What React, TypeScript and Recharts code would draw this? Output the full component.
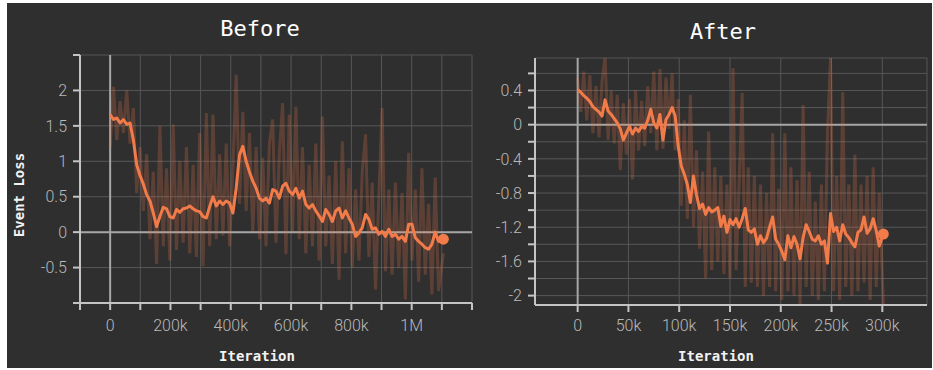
import React from 'react';
import { LineChart, Line, XAxis, YAxis, CartesianGrid, ReferenceLine } from 'recharts';

// ---------- Before panel data ----------
const beforeIterations = [
  0, 11000, 22000, 33000, 44000, 55000, 66000, 77000, 88000, 99000,
  110000, 121000, 132000, 143000, 154000, 165000, 176000, 187000, 198000, 209000,
  220000, 231000, 242000, 253000, 264000, 275000, 286000, 297000, 308000, 319000,
  330000, 341000, 352000, 363000, 374000, 385000, 396000, 407000, 418000, 429000,
  440000, 451000, 462000, 473000, 484000, 495000, 506000, 517000, 528000, 539000,
  550000, 561000, 572000, 583000, 594000, 605000, 616000, 627000, 638000, 649000,
  660000, 671000, 682000, 693000, 704000, 715000, 726000, 737000, 748000, 759000,
  770000, 781000, 792000, 803000, 814000, 825000, 836000, 847000, 858000, 869000,
  880000, 891000, 902000, 913000, 924000, 935000, 946000, 957000, 968000, 979000,
  990000, 1001000, 1012000, 1023000, 1034000, 1045000, 1056000, 1067000, 1078000, 1089000,
  1105000,
];
const beforeSmoothed = [
  1.66, 1.59, 1.61, 1.54, 1.59, 1.52, 1.54, 1.30, 0.95, 0.80,
  0.68, 0.53, 0.44, 0.27, 0.08, 0.22, 0.35, 0.33, 0.22, 0.20,
  0.32, 0.28, 0.33, 0.34, 0.37, 0.33, 0.30, 0.29, 0.22, 0.20,
  0.36, 0.50, 0.37, 0.44, 0.39, 0.44, 0.41, 0.27, 0.62, 1.09,
  1.21, 1.00, 0.85, 0.72, 0.62, 0.48, 0.44, 0.48, 0.41, 0.60,
  0.58, 0.48, 0.65, 0.69, 0.58, 0.53, 0.62, 0.48, 0.58, 0.39,
  0.34, 0.39, 0.30, 0.23, 0.15, 0.32, 0.25, 0.15, 0.30, 0.34,
  0.20, 0.30, 0.20, 0.11, -0.06, -0.01, 0.06, 0.25, 0.18, 0.04,
  0.06, -0.03, 0.01, -0.06, 0.04, -0.06, -0.03, -0.10, -0.06, -0.13,
  0.11, 0.11, -0.08, -0.13, -0.17, -0.22, -0.24, -0.17, 0.00, -0.13,
  -0.10,
];
const beforeRaw = [
  1.20, 2.05, 1.30, 1.85, 1.40, 2.00, 1.25, 1.75, 0.55, 1.20,
  0.30, 1.10, -0.10, 0.85, -0.45, 1.50, -0.20, 0.90, -0.40, 1.52,
  -0.25, 1.00, -0.15, 1.20, -0.30, 0.95, -0.35, 1.40, -0.48, 1.68,
  -0.20, 1.66, -0.10, 1.10, -0.05, 1.25, -0.20, 0.90, 2.22, 0.40,
  1.70, 0.30, 1.40, 0.00, 1.20, -0.10, 1.05, -0.20, 1.25, 1.59,
  -0.15, 1.10, 1.82, -0.31, 1.66, 0.00, 1.77, -0.10, 1.20, -0.30,
  0.95, -0.20, 1.25, -0.40, 1.63, -0.20, 0.80, -0.45, 1.00, -0.67,
  1.28, -0.30, 0.90, -0.50, 0.60, -0.40, 0.85, 1.38, -0.35, 0.70,
  -0.81, 0.50, 1.75, -0.55, 0.60, -0.60, 0.70, -0.50, 0.55, -0.95,
  1.12, -0.40, 0.60, -0.70, 0.90, -0.60, 0.40, -0.88, 0.77, -0.83,
  -0.30,
];
const beforeXTicks = [-100000, 0, 100000, 200000, 300000, 400000, 500000, 600000, 700000, 800000, 900000, 1000000, 1100000, 1200000];
const beforeXLabels = ['', '0', '', '200k', '', '400k', '', '600k', '', '800k', '', '1M', '', ''];
const beforeYTicks = [-1, -0.5, 0, 0.5, 1, 1.5, 2, 2.5];
const beforeYLabels = ['', '-0.5', '0', '0.5', '1', '1.5', '2', ''];

// ---------- After panel data ----------
const afterIterations = [
  0, 3000, 6000, 9000, 12000, 15000, 18000, 21000, 24000, 27000,
  30000, 33000, 36000, 39000, 42000, 45000, 48000, 51000, 54000, 57000,
  60000, 63000, 66000, 69000, 72000, 75000, 78000, 81000, 84000, 87000,
  90000, 93000, 96000, 99000, 102000, 105000, 108000, 111000, 114000, 117000,
  120000, 123000, 126000, 129000, 132000, 135000, 138000, 141000, 144000, 147000,
  150000, 153000, 156000, 159000, 162000, 165000, 168000, 171000, 174000, 177000,
  180000, 183000, 186000, 189000, 192000, 195000, 198000, 201000, 204000, 207000,
  210000, 213000, 216000, 219000, 222000, 225000, 228000, 231000, 234000, 237000,
  240000, 243000, 246000, 249000, 252000, 255000, 258000, 261000, 264000, 267000,
  270000, 273000, 276000, 279000, 282000, 285000, 288000, 291000, 294000, 297000,
  301000,
];
const afterSmoothed = [
  0.41, 0.38, 0.34, 0.31, 0.27, 0.21, 0.18, 0.15, 0.10, 0.29,
  0.16, 0.12, 0.07, 0.02, -0.05, -0.18, -0.10, -0.02, -0.11, -0.04,
  -0.08, -0.02, -0.04, 0.05, 0.18, 0.02, -0.04, 0.12, -0.18, 0.06,
  0.12, 0.20, 0.10, -0.25, -0.48, -0.58, -0.70, -0.91, -0.60, -0.82,
  -0.98, -0.93, -1.05, -0.97, -1.02, -1.00, -0.97, -1.19, -1.07, -1.26,
  -1.11, -1.17, -1.10, -1.20, -1.10, -0.98, -1.23, -1.26, -1.22, -1.40,
  -1.30, -1.38, -1.33, -1.20, -1.08, -1.34, -1.40, -1.48, -1.58, -1.30,
  -1.44, -1.31, -1.40, -1.57, -1.32, -1.17, -1.25, -1.34, -1.36, -1.30,
  -1.40, -1.36, -1.62, -1.04, -1.25, -1.20, -1.36, -1.17, -1.28, -1.32,
  -1.38, -1.43, -1.26, -1.23, -1.08, -1.27, -1.22, -1.10, -1.24, -1.42,
  -1.28,
];
const afterRaw = [
  0.55, 0.15, 0.62, 0.05, 0.58, -0.10, 0.45, -0.15, 0.50, 0.80,
  -0.18, 0.40, -0.22, 0.35, -0.53, 0.25, -0.35, 0.30, -0.64, 0.40,
  -0.30, 0.28, -0.25, 0.45, -0.10, 0.62, -0.30, 0.65, -0.28, 0.55,
  -0.05, 0.60, -0.30, 0.30, -0.95, 0.05, -1.10, 0.35, -1.20, -0.30,
  -1.45, -0.55, -1.80, -0.08, -1.70, -0.50, -1.60, -0.60, -1.75, -0.70,
  -1.80, 0.66, -1.70, -0.70, 0.37, -1.90, -0.50, -1.85, -0.60, -1.90,
  -0.70, -2.00, -0.80, -1.90, -0.10, -1.95, -0.75, -2.05, -0.10, -1.95,
  -0.50, -2.00, -0.65, -2.10, 0.23, -1.90, -0.55, -2.00, -0.90, -2.05,
  -0.70, -1.95, -0.09, 0.78, -1.95, -0.60, -2.05, 0.38, -1.90, -0.70,
  -2.00, -0.35, -1.95, -0.70, -1.85, -0.60, -2.05, -0.50, -1.90, -0.80,
  -2.10,
];
const afterXTicks = [0, 50000, 100000, 150000, 200000, 250000, 300000];
const afterXLabels = ['0', '50k', '100k', '150k', '200k', '250k', '300k'];
const afterYTicks = [-2, -1.8, -1.6, -1.4, -1.2, -1, -0.8, -0.6, -0.4, -0.2, 0, 0.2, 0.4, 0.6];
const afterYLabels = ['-2', '', '-1.6', '', '-1.2', '', '-0.8', '', '-0.4', '', '0', '', '0.4', ''];

const beforeData = beforeIterations.map((it, i) => ({ it, raw: beforeRaw[i], smooth: beforeSmoothed[i] }));
const afterData = afterIterations.map((it, i) => ({ it, raw: afterRaw[i], smooth: afterSmoothed[i] }));

const BG = '#2f2f2f';
const ORANGE = '#f27b4a';
const AXIS = '#c4c4c4';
const GRID = '#575757';
const ZERO = '#a6a6a6';
const TICK_TEXT = '#b9b9b9';
const MONO = '"DejaVu Sans Mono", monospace';

const tickStyle = { fill: TICK_TEXT, fontFamily: 'Roboto, sans-serif', fontWeight: 300, fontSize: 16 };

function endDot(lastIndex: number) {
  return (props: any) => {
    const { cx, cy, index } = props;
    if (index !== lastIndex || cx == null || cy == null) return <g key={`d${index}`} />;
    return <circle key={`d${index}`} cx={cx} cy={cy} r={5.5} fill={ORANGE} stroke="none" />;
  };
}

interface PanelProps {
  data: { it: number; raw: number; smooth: number }[];
  xDomain: [number, number];
  yDomain: [number, number];
  xTicks: number[];
  xLabels: string[];
  yTicks: number[];
  yLabels: string[];
  width: number;
  height: number;
  margin: { top: number; right: number; left: number; bottom: number };
  xTickMargin: number;
}

function Panel(p: PanelProps) {
  return (
    <LineChart width={p.width} height={p.height} data={p.data} margin={p.margin}>
      <CartesianGrid stroke={GRID} strokeWidth={1} />
      <XAxis
        type="number"
        dataKey="it"
        domain={p.xDomain}
        ticks={p.xTicks}
        interval={0}
        allowDataOverflow
        tickFormatter={(v: number, i: number) => p.xLabels[i] ?? ''}
        tick={tickStyle}
        tickSize={7}
        tickMargin={p.xTickMargin}
        height={30}
        axisLine={{ stroke: AXIS, strokeWidth: 2 }}
        tickLine={{ stroke: AXIS, strokeWidth: 2 }}
      />
      <YAxis
        type="number"
        domain={p.yDomain}
        ticks={p.yTicks}
        interval={0}
        allowDataOverflow
        tickFormatter={(v: number, i: number) => p.yLabels[i] ?? ''}
        tick={tickStyle}
        tickSize={7}
        tickMargin={6}
        width={60}
        axisLine={{ stroke: AXIS, strokeWidth: 2 }}
        tickLine={{ stroke: AXIS, strokeWidth: 2 }}
      />
      <ReferenceLine y={0} stroke={ZERO} strokeWidth={2} />
      <ReferenceLine x={0} stroke={ZERO} strokeWidth={2} />
      <Line
        type="linear"
        dataKey="raw"
        stroke={ORANGE}
        strokeOpacity={0.24}
        strokeWidth={3}
        dot={false}
        activeDot={false}
        isAnimationActive={false}
      />
      <Line
        type="linear"
        dataKey="smooth"
        stroke={ORANGE}
        strokeWidth={3}
        strokeLinejoin="round"
        dot={endDot(p.data.length - 1)}
        activeDot={false}
        isAnimationActive={false}
      />
    </LineChart>
  );
}

export default function App() {
  const titleStyle: React.CSSProperties = {
    position: 'absolute',
    width: 200,
    textAlign: 'center',
    fontFamily: MONO,
    fontSize: 22,
    lineHeight: '22px',
    color: '#ffffff',
  };
  const axisTitleStyle: React.CSSProperties = {
    position: 'absolute',
    width: 200,
    height: 14,
    textAlign: 'center',
    fontFamily: MONO,
    fontWeight: 'bold',
    fontSize: 14,
    lineHeight: '14px',
    color: '#f2f2f2',
    whiteSpace: 'nowrap',
  };
  return (
    <div style={{ position: 'absolute', left: 7, top: 3, width: 925, height: 365, background: BG, overflow: 'hidden' }}>
      <div style={{ position: 'absolute', left: 0, top: 0 }}>
        <Panel
          data={beforeData}
          xDomain={[-100000, 1200000]}
          yDomain={[-1, 2.5]}
          xTicks={beforeXTicks}
          xLabels={beforeXLabels}
          yTicks={beforeYTicks}
          yLabels={beforeYLabels}
          width={466}
          height={365}
          margin={{ top: 52, right: 1, left: 13, bottom: 35 }}
          xTickMargin={10}
        />
      </div>
      <div style={{ position: 'absolute', left: 459, top: 0 }}>
        <Panel
          data={afterData}
          xDomain={[-42000, 344000]}
          yDomain={[-2.11, 0.78]}
          xTicks={afterXTicks}
          xLabels={afterXLabels}
          yTicks={afterYTicks}
          yLabels={afterYLabels}
          width={466}
          height={365}
          margin={{ top: 55, right: 5, left: 9, bottom: 33 }}
          xTickMargin={8}
        />
      </div>
      <div style={{ ...titleStyle, left: 253 - 100, top: 15 }}>Before</div>
      <div style={{ ...titleStyle, left: 716 - 100, top: 18 }}>After</div>
      <div style={{ ...axisTitleStyle, left: 250 - 100, top: 346 }}>Iteration</div>
      <div style={{ ...axisTitleStyle, left: 709 - 100, top: 346 }}>Iteration</div>
      <div style={{ ...axisTitleStyle, left: 12 - 100, top: 185, transform: 'rotate(-90deg)' }}>Event Loss</div>
    </div>
  );
}
